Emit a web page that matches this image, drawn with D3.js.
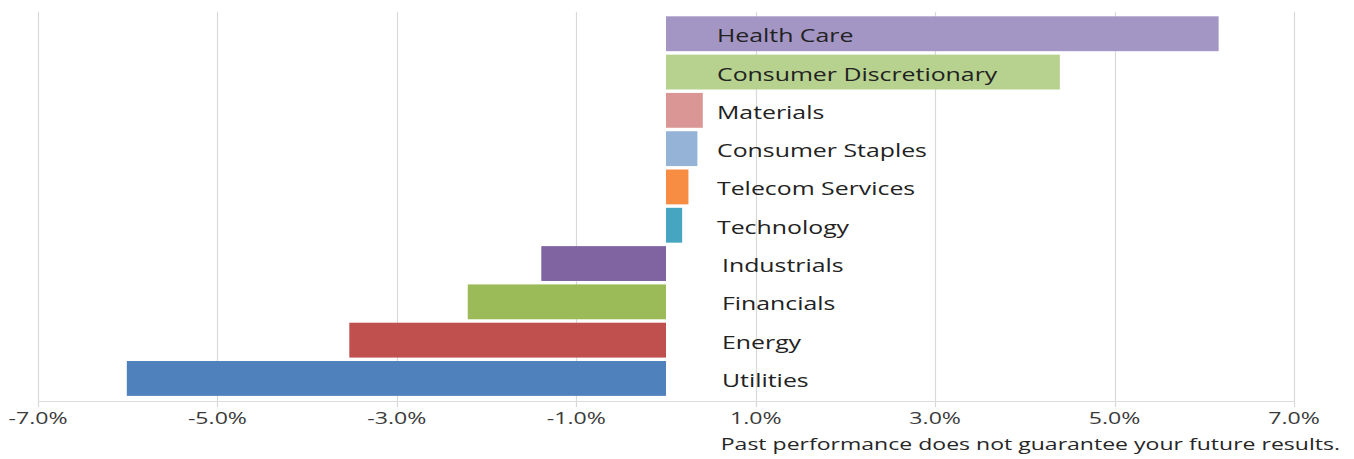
<!DOCTYPE html>
<html>
<head>
<meta charset="utf-8">
<script src="https://cdn.jsdelivr.net/npm/d3@7"></script>
<style>
  html, body { margin: 0; padding: 0; background: #ffffff; }
  svg { display: block; }
  text { font-family: "Open Sans", "DejaVu Sans", sans-serif; }
</style>
</head>
<body>
<svg id="chart" width="1354" height="459"></svg>
<script>
// Sector returns, top to bottom
const sectors = ["Health Care", "Consumer Discretionary", "Materials", "Consumer Staples",
  "Telecom Services", "Technology", "Industrials", "Financials", "Energy", "Utilities"];
const returns = [6.16, 4.39, 0.41, 0.35, 0.25, 0.18, -1.39, -2.21, -3.53, -6.01];
const barColors = ["#a396c4", "#b7d18e", "#d99694", "#95b3d7", "#f68d43",
  "#46a6c2", "#8064a2", "#9bbb59", "#c0504d", "#4f81bd"];
const tickValues = [-7, -5, -3, -1, 1, 3, 5, 7];
const tickLabels = ["-7.0%", "-5.0%", "-3.0%", "-1.0%", "1.0%", "3.0%", "5.0%", "7.0%"];
const footnote = "Past performance does not guarantee your future results.";

const rows = sectors.map((name, i) => ({ name, value: returns[i], color: barColors[i] }));
const ticks = tickValues.map((v, i) => ({ v, label: tickLabels[i] }));

const svg = d3.select("#chart");

const x = d3.scaleLinear().domain([-7, 7]).range([38, 1294]);
const y = d3.scaleBand().domain(sectors).range([14.6, 397.6])
  .paddingInner(0.09).paddingOuter(0.045);

const plotTop = 12, axisY = 401;

// vertical gridlines
svg.append("g").selectAll("line").data(tickValues).join("line")
  .attr("x1", d => Math.round(x(d)) + 0.5).attr("x2", d => Math.round(x(d)) + 0.5)
  .attr("y1", plotTop).attr("y2", axisY + 6)
  .attr("stroke", "#d9d9d9").attr("stroke-width", 1.2);

// horizontal axis line
svg.append("line")
  .attr("x1", x(-7)).attr("x2", x(7))
  .attr("y1", axisY + 0.5).attr("y2", axisY + 0.5)
  .attr("stroke", "#dcdcdc").attr("stroke-width", 1.2);

// bars
svg.append("g").selectAll("rect").data(rows).join("rect")
  .attr("x", d => x(Math.min(0, d.value)))
  .attr("width", d => Math.abs(x(d.value) - x(0)))
  .attr("y", d => y(d.name))
  .attr("height", y.bandwidth())
  .attr("fill", d => d.color);

// sector labels to the right of the zero line
svg.append("g").selectAll("text").data(rows).join("text")
  .attr("transform", d => {
    const lx = x(0) + (d.value >= 0 ? 51 : 56);
    const ly = y(d.name) + y.bandwidth() / 2 + 8.5;
    return `translate(${lx},${ly}) scale(1.38,1)`;
  })
  .attr("font-size", 18)
  .attr("font-weight", 500)
  .attr("fill", "#222222")
  .text(d => d.name);

// tick labels
svg.append("g").selectAll("text").data(ticks).join("text")
  .attr("transform", d => `translate(${x(d.v)},424) scale(1.36,1)`)
  .attr("text-anchor", "middle")
  .attr("font-size", 17)
  .attr("font-weight", 500)
  .attr("fill", "#3a3a3a")
  .text(d => d.label);

// footnote
svg.append("text")
  .attr("transform", `translate(1340,450) scale(1.44,1)`)
  .attr("text-anchor", "end")
  .attr("font-size", 16)
  .attr("font-weight", 500)
  .attr("fill", "#262626")
  .text(footnote);
</script>
</body>
</html>
